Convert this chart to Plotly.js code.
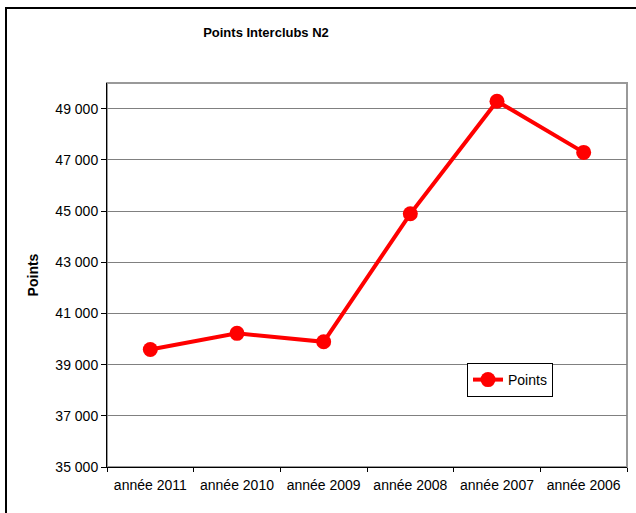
<!DOCTYPE html>
<html>
<head>
<meta charset="utf-8">
<script src="https://cdn.plot.ly/plotly-3.0.1.min.js"></script>
<style>html,body{margin:0;padding:0;background:#fff;}#chart{width:636px;height:513px;}</style>
</head>
<body>
<div id="chart"></div>
<script>
const categories = ["année 2011", "année 2010", "année 2009", "année 2008", "année 2007", "année 2006"];
const points = [39590, 40220, 39890, 44890, 49290, 47290];
const seriesName = "Points";
const chartTitle = "Points Interclubs N2";
const yTitle = "Points";

const FONT = "Liberation Sans, Arial, sans-serif";

const trace = {
  x: categories,
  y: points,
  type: "scatter",
  mode: "lines+markers",
  name: seriesName,
  line: {color: "#FF0000", width: 4},
  marker: {color: "#FF0000", size: 15}
};

const layout = {
  width: 636,
  height: 513,
  margin: {l: 107, r: 9, t: 83, b: 46},
  paper_bgcolor: "#ffffff",
  plot_bgcolor: "#ffffff",
  separators: ", ",
  font: {family: FONT, size: 14, color: "#000"},
  title: {
    text: chartTitle,
    font: {family: FONT, size: 13, color: "#000", weight: "bold"},
    xref: "paper",
    x: (266 - 107) / 520,
    xanchor: "center",
    yref: "container",
    y: 1 - 32 / 513,
    yanchor: "middle"
  },
  xaxis: {
    type: "category",
    range: [-0.5, 5.5],
    tickson: "boundaries",
    ticks: "outside",
    ticklen: 4,
    tickcolor: "#000",
    ticklabelstandoff: 5,
    showline: true,
    linecolor: "#000",
    linewidth: 1,
    showgrid: false,
    zeroline: false,
    tickfont: {family: FONT, size: 14, color: "#000"},
    fixedrange: true
  },
  yaxis: {
    range: [35000, 50000],
    tick0: 35000,
    dtick: 2000,
    tickformat: ",d",
    ticks: "outside",
    ticklen: 5,
    tickcolor: "#000",
    showline: true,
    linecolor: "#000",
    linewidth: 1,
    showgrid: true,
    gridcolor: "#808080",
    gridwidth: 1,
    zeroline: false,
    tickfont: {family: FONT, size: 14, color: "#000"},
    title: {text: yTitle, font: {family: FONT, size: 14, color: "#000", weight: "bold"}, standoff: 13},
    automargin: false,
    fixedrange: true
  },
  showlegend: true,
  legend: {
    x: (467 - 107) / 520,
    y: (467 - 363) / 384,
    xanchor: "left",
    yanchor: "top",
    bgcolor: "#ffffff",
    bordercolor: "#000",
    borderwidth: 1,
    font: {family: FONT, size: 14, color: "#000"},
    itemwidth: 30,
    tracegroupgap: 0
  },
  shapes: [
    {type: "rect", xref: "paper", yref: "paper", x0: 0, x1: 1, y0: 0, y1: 1,
     line: {color: "#999999", width: 2}, layer: "below"},
    {type: "rect", xref: "paper", yref: "paper",
     x0: (6 - 107) / 520, x1: (650 - 107) / 520,
     y0: (467 - 530) / 384, y1: (467 - 8) / 384,
     line: {color: "#000", width: 2}, layer: "above"}
  ]
};

Plotly.newPlot("chart", [trace], layout, {displayModeBar: false, staticPlot: true});
</script>
</body>
</html>
